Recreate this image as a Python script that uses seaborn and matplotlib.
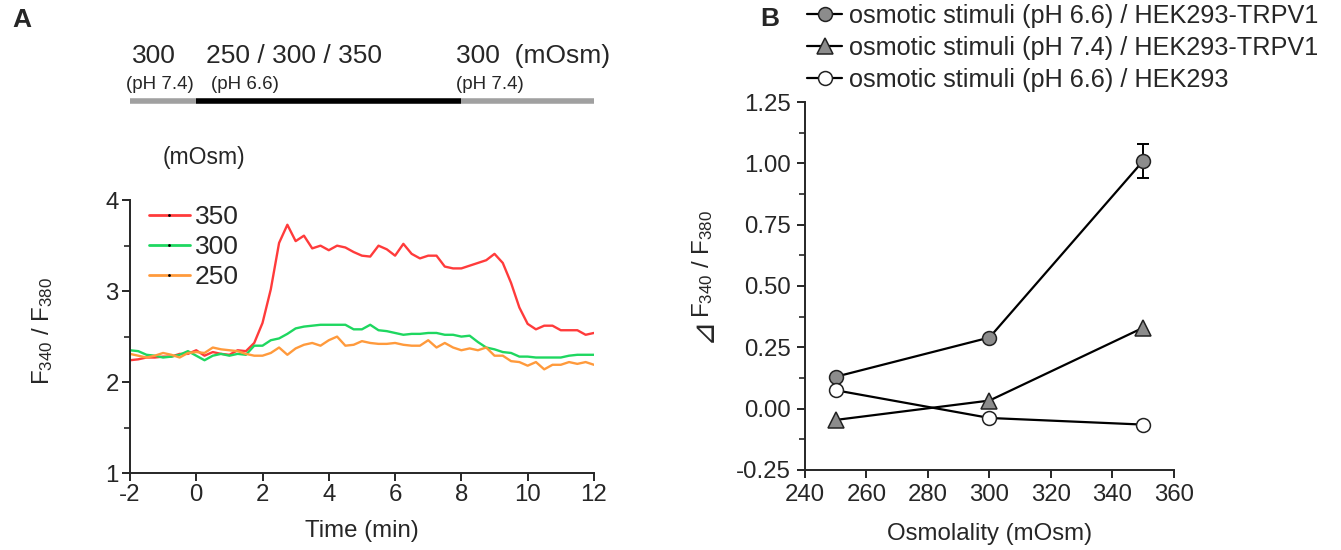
"""Osmotic stimuli under acidic pH: Fura-2 traces (A) and dose response (B)."""

import numpy as np
import pandas as pd
import matplotlib
matplotlib.use("Agg")
import matplotlib.pyplot as plt
from matplotlib.lines import Line2D
from matplotlib.ticker import MultipleLocator, FormatStrFormatter
import seaborn as sns

# ---- panel A: F340/F380 traces, sampled every 15 s from -2 to 12 min
time_min = np.arange(57) * 0.25 - 2
trace_350 = [2.24, 2.25, 2.27, 2.27, 2.28, 2.28, 2.31, 2.31, 2.35, 2.29,
             2.33, 2.31, 2.30, 2.35, 2.34, 2.43, 2.65, 3.02, 3.53, 3.73,
             3.55, 3.61, 3.47, 3.50, 3.45, 3.50, 3.48, 3.43, 3.39, 3.38,
             3.50, 3.46, 3.39, 3.52, 3.41, 3.36, 3.39, 3.39, 3.27, 3.25,
             3.25, 3.28, 3.31, 3.34, 3.41, 3.31, 3.09, 2.82, 2.64, 2.58,
             2.62, 2.62, 2.57, 2.57, 2.57, 2.52, 2.54]
trace_300 = [2.35, 2.34, 2.30, 2.29, 2.27, 2.28, 2.30, 2.34, 2.29, 2.24,
             2.29, 2.31, 2.29, 2.31, 2.30, 2.40, 2.40, 2.46, 2.48, 2.53,
             2.59, 2.61, 2.62, 2.63, 2.63, 2.63, 2.63, 2.58, 2.58, 2.63,
             2.57, 2.56, 2.54, 2.52, 2.53, 2.53, 2.54, 2.54, 2.52, 2.52,
             2.50, 2.51, 2.44, 2.38, 2.36, 2.33, 2.32, 2.28, 2.28, 2.27,
             2.27, 2.27, 2.27, 2.29, 2.30, 2.30, 2.30]
trace_250 = [2.31, 2.29, 2.27, 2.29, 2.32, 2.30, 2.27, 2.32, 2.33, 2.32,
             2.38, 2.36, 2.35, 2.34, 2.31, 2.29, 2.29, 2.32, 2.38, 2.30,
             2.37, 2.41, 2.43, 2.40, 2.46, 2.50, 2.40, 2.41, 2.45, 2.43,
             2.42, 2.42, 2.43, 2.41, 2.40, 2.40, 2.46, 2.38, 2.43, 2.38,
             2.35, 2.37, 2.35, 2.38, 2.29, 2.29, 2.23, 2.22, 2.18, 2.22,
             2.14, 2.19, 2.19, 2.22, 2.20, 2.22, 2.19]
trace_labels = ["350", "300", "250"]
trace_colors = ["#ff3b3b", "#1ed760", "#ff9a3c"]

# ---- panel B: delta F340/F380 vs osmolality
osmolality = [250, 300, 350]
trpv1_ph66 = [0.13, 0.29, 1.01]
trpv1_ph66_err = [0.0, 0.0, 0.07]
trpv1_ph74 = [-0.046, 0.033, 0.33]
hek_ph66 = [0.075, -0.038, -0.065]
series_labels = ["osmotic stimuli (pH 6.6) / HEK293-TRPV1",
                 "osmotic stimuli (pH 7.4) / HEK293-TRPV1",
                 "osmotic stimuli (pH 6.6) / HEK293"]

sns.set_style("ticks")
plt.rcParams["font.family"] = ["Liberation Sans", "DejaVu Sans", "Noto Sans CJK JP"]
plt.rcParams["mathtext.fontset"] = "custom"
plt.rcParams["mathtext.rm"] = "Liberation Sans"
plt.rcParams["mathtext.it"] = "Liberation Sans"
plt.rcParams["axes.unicode_minus"] = False
plt.rcParams["xtick.major.width"] = 1.4
plt.rcParams["ytick.major.width"] = 1.4
plt.rcParams["ytick.minor.width"] = 1.2
plt.rcParams["xtick.major.size"] = 6
plt.rcParams["ytick.major.size"] = 6
plt.rcParams["ytick.minor.size"] = 4

fig = plt.figure(figsize=(13.41, 5.5), dpi=100)
ax_a = fig.add_axes([0.0969, 0.14, 0.346, 0.496])
ax_b = fig.add_axes([0.6003, 0.1455, 0.2751, 0.669])

tick_fs = 17.3

# ---------------- panel A
df = pd.DataFrame({
    "time": np.tile(time_min, 3),
    "ratio": trace_350 + trace_300 + trace_250,
    "mOsm": np.repeat(trace_labels, len(time_min)),
})
sns.lineplot(data=df, x="time", y="ratio", hue="mOsm", hue_order=trace_labels,
             palette=dict(zip(trace_labels, trace_colors)), linewidth=1.7,
             legend=False, ax=ax_a)
ax_a.set_xlim(-2, 12)
ax_a.set_ylim(1, 4)
ax_a.set_xticks(np.arange(-2, 13, 2))
ax_a.yaxis.set_major_locator(MultipleLocator(1))
ax_a.yaxis.set_minor_locator(MultipleLocator(0.5))
ax_a.tick_params(labelsize=tick_fs, pad=2)
ax_a.set_xlabel("Time (min)", fontsize=tick_fs, labelpad=10)
ax_a.set_ylabel(r"F$_{\mathregular{340}}$ / F$_{\mathregular{380}}$", fontsize=tick_fs)
ax_a.yaxis.set_label_coords(-0.162, 0.52)
sns.despine(ax=ax_a)
for s in ax_a.spines.values():
    s.set_linewidth(1.4)

handles = [Line2D([], [], color=c, lw=2, marker=".", markersize=2, markerfacecolor="k",
                  markeredgecolor="k") for c in trace_colors]
ax_a.legend(handles, trace_labels, loc="upper left", bbox_to_anchor=(0.012, 1.03),
            frameon=False, fontsize=19, handlelength=1.55, handletextpad=0.2,
            labelspacing=0.22, borderpad=0)

# stimulus protocol bar above panel A
tr = ax_a.get_xaxis_transform()
for x0, x1, col in [(-2, 0, "#a0a0a0"), (0, 8, "black"), (8, 12, "#a0a0a0")]:
    ax_a.plot([x0, x1], [1.363, 1.363], color=col, lw=4, transform=tr, clip_on=False,
              solid_capstyle="butt")
big_fs, small_fs = 19, 13.5
ax_a.text(-1.93, 1.53, "300", transform=tr, fontsize=big_fs, va="center")
ax_a.text(0.3, 1.53, "250 / 300 / 350", transform=tr, fontsize=big_fs, va="center")
ax_a.text(7.85, 1.53, "300  (mOsm)", transform=tr, fontsize=big_fs, va="center")
ax_a.text(-2.13, 1.425, "(pH 7.4)", transform=tr, fontsize=small_fs, va="center")
ax_a.text(0.45, 1.425, "(pH 6.6)", transform=tr, fontsize=small_fs, va="center")
ax_a.text(7.85, 1.425, "(pH 7.4)", transform=tr, fontsize=small_fs, va="center")
ax_a.text(-1.02, 1.158, "(mOsm)", transform=tr, fontsize=16.5, va="center")

# ---------------- panel B
style = dict(color="black", linewidth=1.6, markersize=10, markeredgecolor="#222222",
             markeredgewidth=1.1)
sns.lineplot(x=osmolality, y=trpv1_ph66, marker="o", markerfacecolor="#8c8c8c",
             ax=ax_b, label=series_labels[0], **style)
sns.lineplot(x=osmolality, y=trpv1_ph74, marker="^", markerfacecolor="#8c8c8c",
             ax=ax_b, label=series_labels[1], **{**style, "markersize": 11})
sns.lineplot(x=osmolality, y=hek_ph66, marker="o", markerfacecolor="white",
             ax=ax_b, label=series_labels[2], **style)
ax_b.errorbar(osmolality, trpv1_ph66, yerr=trpv1_ph66_err, fmt="none", ecolor="black",
              elinewidth=1.4, capsize=4, capthick=1.4, zorder=1)
ax_b.set_xlim(240, 360)
ax_b.set_ylim(-0.25, 1.25)
ax_b.set_xticks(np.arange(240, 361, 20))
ax_b.yaxis.set_major_locator(MultipleLocator(0.25))
ax_b.yaxis.set_minor_locator(MultipleLocator(0.125))
ax_b.yaxis.set_major_formatter(FormatStrFormatter("%.2f"))
ax_b.tick_params(labelsize=tick_fs, pad=4)
ax_b.set_xlabel("Osmolality (mOsm)", fontsize=tick_fs, labelpad=12)
label_x = -0.243
ax_b.set_ylabel(r"F$_{\mathregular{340}}$ / F$_{\mathregular{380}}$", fontsize=tick_fs)
ax_b.yaxis.set_label_coords(label_x, 0.56)
sns.despine(ax=ax_b)
for s in ax_b.spines.values():
    s.set_linewidth(1.4)
ax_b.legend(loc="upper left", bbox_to_anchor=(0.5915, 1.018), bbox_transform=fig.transFigure,
            frameon=False, fontsize=18.2, handlelength=1.4, handletextpad=0.25,
            labelspacing=0.32, borderpad=0.05, markerscale=1.0)

# delta sign in front of the panel B label (not in Liberation Sans)
fig.canvas.draw()
bb = ax_b.yaxis.label.get_window_extent()
y0 = ax_b.transAxes.inverted().transform((bb.x0, bb.y0))[1]
ax_b.text(label_x + 0.004, y0 + 0.004, "⊿", transform=ax_b.transAxes, fontsize=22,
          family=["DejaVu Sans", "Noto Sans CJK JP"], rotation=90, rotation_mode="anchor",
          ha="right", va="bottom", clip_on=False)

fig.text(0.016, 0.963, "A", fontsize=19, fontweight="bold", ha="center", va="center")
fig.text(0.574, 0.966, "B", fontsize=19, fontweight="bold", ha="center", va="center")

fig.savefig("out.png", dpi=100)
